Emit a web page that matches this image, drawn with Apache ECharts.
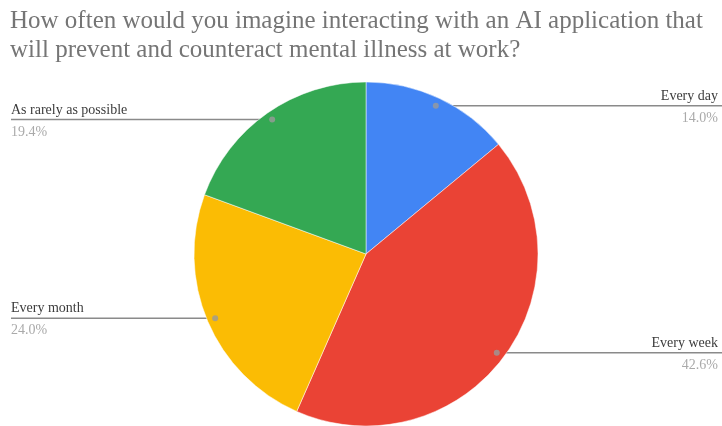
<!DOCTYPE html>
<html>
<head>
<meta charset="utf-8">
<script src="https://cdn.jsdelivr.net/npm/echarts@6/dist/echarts.min.js"></script>
<style>
  html, body { margin: 0; padding: 0; background: #fff; }
  #chart { width: 722px; height: 426px; }
</style>
</head>
<body>
<div id="chart"></div>
<script>
// Survey answers, clockwise from 12 o'clock
const categories = ['Every day', 'Every week', 'Every month', 'As rarely as possible'];
const shares = [14.0, 42.6, 24.0, 19.4];
const sliceColors = ['#4285F4', '#EA4335', '#FBBC04', '#34A853'];

const W = 722;
const CX = 366, CY = 254, R = 172;
const DOT_R = 0.953; // where the leader lines start, as a fraction of the radius
const FONT = '"Liberation Serif", "DejaVu Serif", serif';

const total = shares.reduce((a, b) => a + b, 0);
// middle of each slice, as a percentage of the full turn
const midPct = [];
let acc = 0;
shares.forEach(v => { midPct.push((acc + v / 2) / total * 100); acc += v; });

const chart = echarts.init(document.getElementById('chart'));

chart.setOption({
  animation: false,
  title: {
    text: 'How often would you imagine interacting with an AI application that\nwill prevent and counteract mental illness at work?',
    left: 5,
    top: 2,
    textStyle: {
      fontFamily: FONT,
      fontWeight: 'normal',
      fontSize: 25,
      lineHeight: 29,
      color: '#757575'
    }
  },
  polar: { center: [CX, CY], radius: R },
  angleAxis: { type: 'value', min: 0, max: 100, startAngle: 90, clockwise: true, show: false },
  radiusAxis: { type: 'value', min: 0, max: 1, show: false },
  series: [
    {
      type: 'pie',
      center: [CX, CY],
      radius: R,
      startAngle: 90,
      clockwise: true,
      avoidLabelOverlap: false,
      itemStyle: { borderColor: '#fff', borderWidth: 0.5 },
      emphasis: { disabled: true },
      data: categories.map((name, i) => ({
        name,
        value: shares[i],
        itemStyle: { color: sliceColors[i] }
      })),
      label: {
        show: true,
        position: 'outside',
        formatter: p => '{n|' + p.name + '}\n{p|' + p.value.toFixed(1) + '%}',
        rich: {
          n: { fontFamily: FONT, fontSize: 14, color: '#3c3c3c', lineHeight: 22 },
          p: { fontFamily: FONT, fontSize: 14, color: '#aaaaaa', lineHeight: 22 }
        }
      },
      labelLine: {
        show: true,
        lineStyle: { color: '#8a8a8a', width: 1.5 }
      },
      labelLayout: function (params) {
        const i = params.dataIndex;
        const a = midPct[i] / 100 * Math.PI * 2;
        const px = CX + R * DOT_R * Math.sin(a);
        const py = CY - R * DOT_R * Math.cos(a);
        const right = Math.sin(a) > 0;
        const ex = right ? W : 11;
        return {
          x: right ? 718 : 11,
          y: py + 1.5,
          align: right ? 'right' : 'left',
          verticalAlign: 'middle',
          labelLinePoints: [[px, py], [ex, py], [ex, py]]
        };
      }
    },
    {
      // anchor dots where the leader lines meet the slices
      type: 'scatter',
      coordinateSystem: 'polar',
      z: 5,
      silent: true,
      symbolSize: 6,
      itemStyle: { color: '#9a9a9a' },
      data: midPct.map(m => [DOT_R, m])
    }
  ]
});
</script>
</body>
</html>
